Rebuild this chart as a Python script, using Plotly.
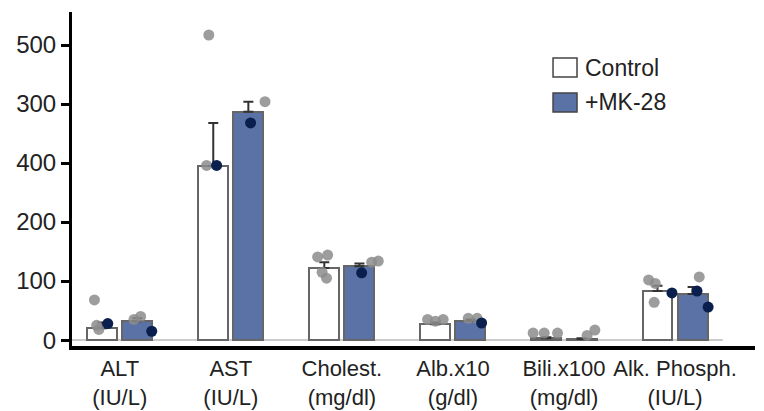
import plotly.graph_objects as go

categories = ["ALT<br>(IU/L)", "AST<br>(IU/L)", "Cholest.<br>(mg/dl)", "Alb.x10<br>(g/dl)", "Bili.x100<br>(mg/dl)", "Alk. Phosph.<br>(IU/L)"]
series_names = ["Control", "+MK-28"]
control_mean = [20, 295, 122, 27, 3, 83]
control_err = [10, 73, 10, 3, 2, 9]
mk_mean = [32, 387, 125, 33, 2, 78]
mk_err = [5, 17, 5, 2, 1, 12]

# individual points: category index, value, dark flag, horizontal jitter
control_pts_cat = [0, 0, 0, 0, 1, 1, 1, 2, 2, 2, 2, 3, 3, 3, 4, 4, 4, 5, 5, 5, 5]
control_pts_val = [68, 25, 18, 28, 517, 296, 296, 141, 144, 105, 115, 35, 32, 35, 12, 12, 12, 102, 96, 64, 80]
control_pts_dark = [0, 0, 0, 1, 0, 0, 1, 0, 0, 0, 0, 0, 0, 0, 0, 0, 0, 0, 0, 0, 1]
control_pts_jit = [-0.07, -0.05, -0.03, 0.05, -0.04, -0.06, 0.03, -0.06, 0.03, 0.02, -0.02, -0.07, 0.0, 0.07, -0.12, -0.02, 0.1, -0.08, -0.02, -0.03, 0.13]

mk_pts_cat = [0, 0, 0, 1, 1, 2, 2, 2, 3, 3, 3, 4, 4, 5, 5, 5]
mk_pts_val = [40, 35, 15, 404, 368, 114, 132, 134, 37, 37, 29, 8, 17, 107, 83, 56]
mk_pts_dark = [0, 0, 1, 0, 1, 1, 0, 0, 0, 0, 1, 0, 0, 0, 1, 1]
mk_pts_jit = [0.03, -0.03, 0.13, 0.15, 0.02, 0.02, 0.11, 0.17, -0.02, 0.06, 0.1, 0.05, 0.12, 0.06, 0.04, 0.14]

ytick_vals = [0, 100, 200, 300, 400, 500]
ytick_text = ["0", "100", "200", "400", "300", "500"]

off = 0.158
w = 0.27
idx = list(range(len(categories)))
gray_pt = "rgba(140,140,140,0.85)"
dark_pt = "#0b1f4f"
ctrl_fill = "white"
mk_fill = "#5a72a5"
edge = "#666"

fig = go.Figure()
fig.add_trace(go.Bar(
    x=[i - off for i in idx], y=control_mean, width=w, name=series_names[0],
    marker=dict(color=ctrl_fill, line=dict(color=edge, width=2)),
    error_y=dict(type="data", symmetric=False, array=control_err, arrayminus=[0]*6,
                 color="#333", thickness=2, width=5),
))
fig.add_trace(go.Bar(
    x=[i + off for i in idx], y=mk_mean, width=w, name=series_names[1],
    marker=dict(color=mk_fill, line=dict(color=edge, width=2)),
    error_y=dict(type="data", symmetric=False, array=mk_err, arrayminus=[0]*6,
                 color="#333", thickness=2, width=5),
))
fig.add_trace(go.Scatter(
    x=[c - off + j for c, j in zip(control_pts_cat, control_pts_jit)], y=control_pts_val,
    mode="markers", showlegend=False,
    marker=dict(size=11, color=[dark_pt if d else gray_pt for d in control_pts_dark]),
))
fig.add_trace(go.Scatter(
    x=[c + off + j for c, j in zip(mk_pts_cat, mk_pts_jit)], y=mk_pts_val,
    mode="markers", showlegend=False,
    marker=dict(size=11, color=[dark_pt if d else gray_pt for d in mk_pts_dark]),
))

fig.add_shape(type="line", xref="x", yref="y", x0=-0.43, x1=5.43, y0=0, y1=0,
              line=dict(color="#bbb", width=1.5), layer="below")

# manual legend with large swatches
legend_rows = [(0.8623, 0.8054, 0.8323), (0.7575, 0.7006, 0.7305)]
for (y1, y0, yc), name, fill in zip(legend_rows, series_names, [ctrl_fill, mk_fill]):
    fig.add_shape(type="rect", xref="paper", yref="paper", x0=0.7043, x1=0.7394, y0=y0, y1=y1,
                  fillcolor=fill, line=dict(color="#444", width=1.5))
    fig.add_annotation(xref="paper", yref="paper", x=0.748, y=yc, text=name, showarrow=False,
                       xanchor="left", yanchor="middle", font=dict(size=23, color="#222"))

fig.update_layout(
    width=764, height=411,
    margin=dict(l=72, r=9, t=12, b=65, autoexpand=False),
    paper_bgcolor="white", plot_bgcolor="white",
    font=dict(family="Liberation Sans, Arial", color="#222"),
    showlegend=False,
    bargap=0,
)
fig.update_xaxes(
    range=[-0.43, 5.72], tickmode="array", tickvals=idx, ticktext=categories,
    showline=True, linecolor="black", linewidth=4, ticks="", showgrid=False,
    zeroline=False, tickfont=dict(size=22), ticklabelstandoff=0, automargin=False,
)
fig.update_yaxes(
    range=[-10, 556], tickmode="array", tickvals=ytick_vals, ticktext=ytick_text,
    showline=True, linecolor="black", linewidth=3, ticks="outside", ticklen=8,
    tickwidth=3, tickcolor="black", showgrid=False, zeroline=False,
    tickfont=dict(size=24), automargin=False,
)

fig.write_html("out.html")
